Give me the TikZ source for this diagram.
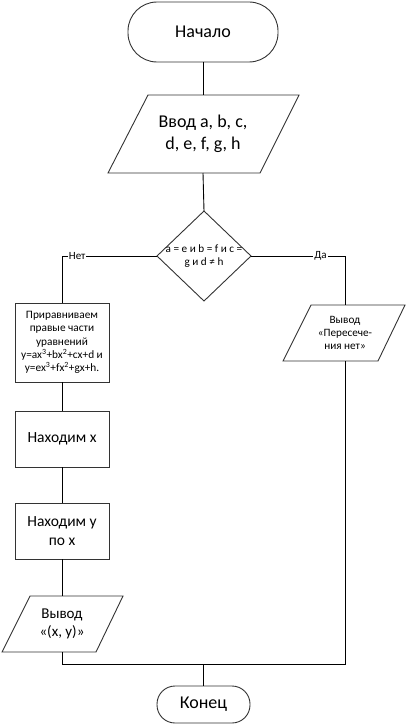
\documentclass[tikz,border=0pt]{standalone}
\usepackage{fontspec}
\setmainfont{Carlito}
\usetikzlibrary{shapes.geometric,calc}
\begin{document}
\begin{tikzpicture}[x=1pt,y=-1pt,
  every node/.style={inner sep=0pt,outer sep=0pt},
  line/.style={draw=black,line width=0.9pt},
  shp/.style={draw=black!80,line width=0.9pt},
  term/.style={shp,rectangle,fill=white},
  proc/.style={shp,rectangle,minimum width=94pt,align=center},
  ghost/.style={rectangle,align=center},
  big/.style={font=\fontsize{18}{22}\selectfont},
  mid/.style={font=\fontsize{15.5}{19}\selectfont},
  sml/.style={font=\fontsize{11.3}{13.3}\selectfont},
  tiny/.style={font=\fontsize{11.2}{12.7}\selectfont},
  lbl/.style={fill=white,inner sep=1pt,font=\fontsize{11}{12}\selectfont}
]
\useasboundingbox (0,0) rectangle (407,725);
% nodes
\node[term,rounded corners=29pt,minimum width=150pt,minimum height=60pt,big] (start) at (203,32) {Начало};
\node[ghost,minimum width=151pt,minimum height=78pt,big] (in) at (203,134) {Ввод a, b, c,\\d, e, f, g, h};
\draw[shp] (148,95) -- (299,95) -- (260,173) -- (108,173) -- cycle;
\node[shp,diamond,minimum width=94pt,minimum height=90pt] (d) at (204,256) {};
\node[ghost,tiny] (dtext) at (204,256) {а = е и b = f и с =\\g и d ≠ h};
\node[proc,minimum height=79pt,sml] (b1) at (62,342.5) {Приравниваем\\правые части\\уравнений\\y=ax\textsuperscript{3}+bx\textsuperscript{2}+cx+d и\\y=ex\textsuperscript{3}+fx\textsuperscript{2}+gx+h.};
\node[proc,minimum height=56pt,mid] (b2) at (62,439) {Находим x};
\node[proc,minimum height=56pt,mid] (b3) at (62,531) {Находим y\\по x};
\node[ghost,minimum width=94pt,minimum height=56pt,font=\fontsize{15}{18}\selectfont] (out) at (62,624) {Вывод\\«(x, y)»};
\draw[shp] (30,596) -- (123,596) -- (96,652) -- (2,652) -- cycle;
\node[ghost,minimum width=94pt,minimum height=56pt,tiny] (rp) at (345,333) {Вывод\\«Пересече-\\ния нет»};
\draw[shp] (311,305) -- (405,305) -- (378,361) -- (283,361) -- cycle;
\node[term,rounded corners=18pt,minimum width=93pt,minimum height=37pt,big] (end) at (203.5,704.5) {Конец};
\coordinate (jl) at (62,664);
\coordinate (jr) at (345,664);
\coordinate (jm) at (203.5,664);
% connectors
\draw[line] (start.south) -- (in.north);
\draw[line] (in.south) -- (d.north);
\draw[line] (d.west) -| node[lbl,pos=0.42] {Нет} (b1.north);
\draw[line] (d.east) -| node[lbl,pos=0.37] {Да} (rp.north);
\draw[line] (b1.south) -- (b2.north);
\draw[line] (b2.south) -- (b3.north);
\draw[line] (b3.south) -- (out.north);
\draw[line] (out.south) -- (jl) -- (jr) -- (rp.south);
\draw[line] (jm) -- (end.north);
\end{tikzpicture}
\end{document}
